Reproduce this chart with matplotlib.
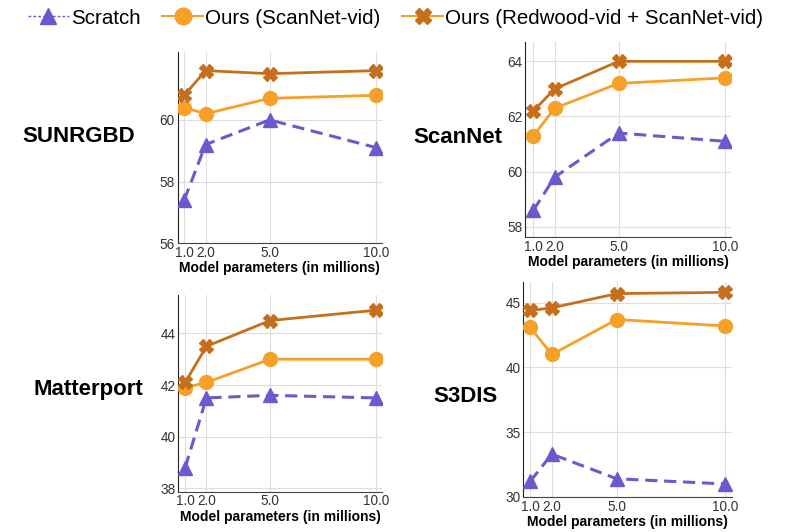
import numpy as np
import matplotlib
matplotlib.use("Agg")
from matplotlib import pyplot as plt
from matplotlib.lines import Line2D

plt.rcParams['font.family'] = ['Liberation Sans', 'DejaVu Sans']

# dati
params = [1.0, 2.0, 5.0, 10.0]
xtick_labels = ["1.0", "2.0", "5.0", "10.0"]

datasets = ["SUNRGBD", "ScanNet", "Matterport", "S3DIS"]
scratch = {
    "SUNRGBD": [57.4, 59.2, 60.0, 59.1],
    "ScanNet": [58.6, 59.8, 61.4, 61.1],
    "Matterport": [38.8, 41.5, 41.6, 41.5],
    "S3DIS": [31.2, 33.3, 31.4, 31.0],
}
ours_scannet = {
    "SUNRGBD": [60.4, 60.2, 60.7, 60.8],
    "ScanNet": [61.3, 62.3, 63.2, 63.4],
    "Matterport": [41.9, 42.1, 43.0, 43.0],
    "S3DIS": [43.1, 41.0, 43.7, 43.2],
}
ours_redwood = {
    "SUNRGBD": [60.8, 61.6, 61.5, 61.6],
    "ScanNet": [62.2, 63.0, 64.0, 64.0],
    "Matterport": [42.1, 43.5, 44.5, 44.9],
    "S3DIS": [44.4, 44.6, 45.7, 45.8],
}
yticks = {
    "SUNRGBD": [56, 58, 60],
    "ScanNet": [58, 60, 62, 64],
    "Matterport": [38, 40, 42, 44],
    "S3DIS": [30, 35, 40, 45],
}

# layout dei pannelli (coordinate figura) e limiti
boxes = {
    "SUNRGBD": [0.226, 0.543, 0.260, 0.359],
    "ScanNet": [0.668, 0.555, 0.262, 0.366],
    "Matterport": [0.227, 0.076, 0.259, 0.370],
    "S3DIS": [0.666, 0.066, 0.265, 0.404],
}
ylims = {
    "SUNRGBD": (56, 62.2),
    "ScanNet": (57.64, 64.7),
    "Matterport": (37.87, 45.5),
    "S3DIS": (30, 46.6),
}
xlims = {
    "SUNRGBD": (0.69, 10.27),
    "ScanNet": (0.61, 10.27),
    "Matterport": (0.68, 10.28),
    "S3DIS": (0.69, 10.31),
}
name_pos = {
    "SUNRGBD": (0.028, 0.7425),
    "ScanNet": (0.5254, 0.741),
    "Matterport": (0.042, 0.267),
    "S3DIS": (0.551, 0.2556),
}

c_scratch = "#6a5acd"
c_scannet = "#f7a028"
c_redwood = "#c56f1c"

fig = plt.figure(figsize=(7.86, 5.32), dpi=100)

for d in datasets:
    ax = fig.add_axes(boxes[d])
    ax.plot(params, scratch[d], color=c_scratch, linestyle=(0, (4, 2.2)), linewidth=2.2,
            marker="^", markersize=10, zorder=3)
    ax.plot(params, ours_scannet[d], color=c_scannet, linewidth=2,
            marker="o", markersize=10, zorder=4)
    ax.plot(params, ours_redwood[d], color=c_redwood, linewidth=2,
            marker="X", markersize=10, zorder=5)
    ax.set_xlim(xlims[d])
    ax.set_ylim(ylims[d])
    ax.set_xticks(params)
    ax.set_xticklabels(xtick_labels)
    ax.set_yticks(yticks[d])
    ax.grid(True, color="#dddddd", linewidth=0.8)
    ax.set_axisbelow(True)
    ax.tick_params(length=0, labelsize=9.8, labelcolor="#333333", pad=2)
    for s in ["top", "right"]:
        ax.spines[s].set_visible(False)
    ax.spines["left"].set_color("#222222")
    ax.spines["bottom"].set_color("#444444")
    ax.set_xlabel("Model parameters (in millions)", fontsize=10, fontweight="bold", labelpad=1)
    fig.text(name_pos[d][0], name_pos[d][1], d, fontsize=16, fontweight="bold", va="center")

handles = [
    Line2D([], [], color=c_scratch, linestyle=(0, (2, 1.5)), linewidth=1, marker="^", markersize=12),
    Line2D([], [], color=c_scannet, linewidth=1.5, marker="o", markersize=12),
    Line2D([], [], color=c_scannet, linewidth=1.5, marker="X", markersize=12,
           markerfacecolor=c_redwood, markeredgecolor=c_redwood),
]
labels = ["Scratch", "Ours (ScanNet-vid)", "Ours (Redwood-vid + ScanNet-vid)"]
fig.legend(handles, labels, loc="center", bbox_to_anchor=(0.503, 0.966), ncol=3, frameon=False,
           fontsize=14.8, handlelength=2.0, handletextpad=0.1, columnspacing=1.05)

plt.savefig("out.png", dpi=100)
